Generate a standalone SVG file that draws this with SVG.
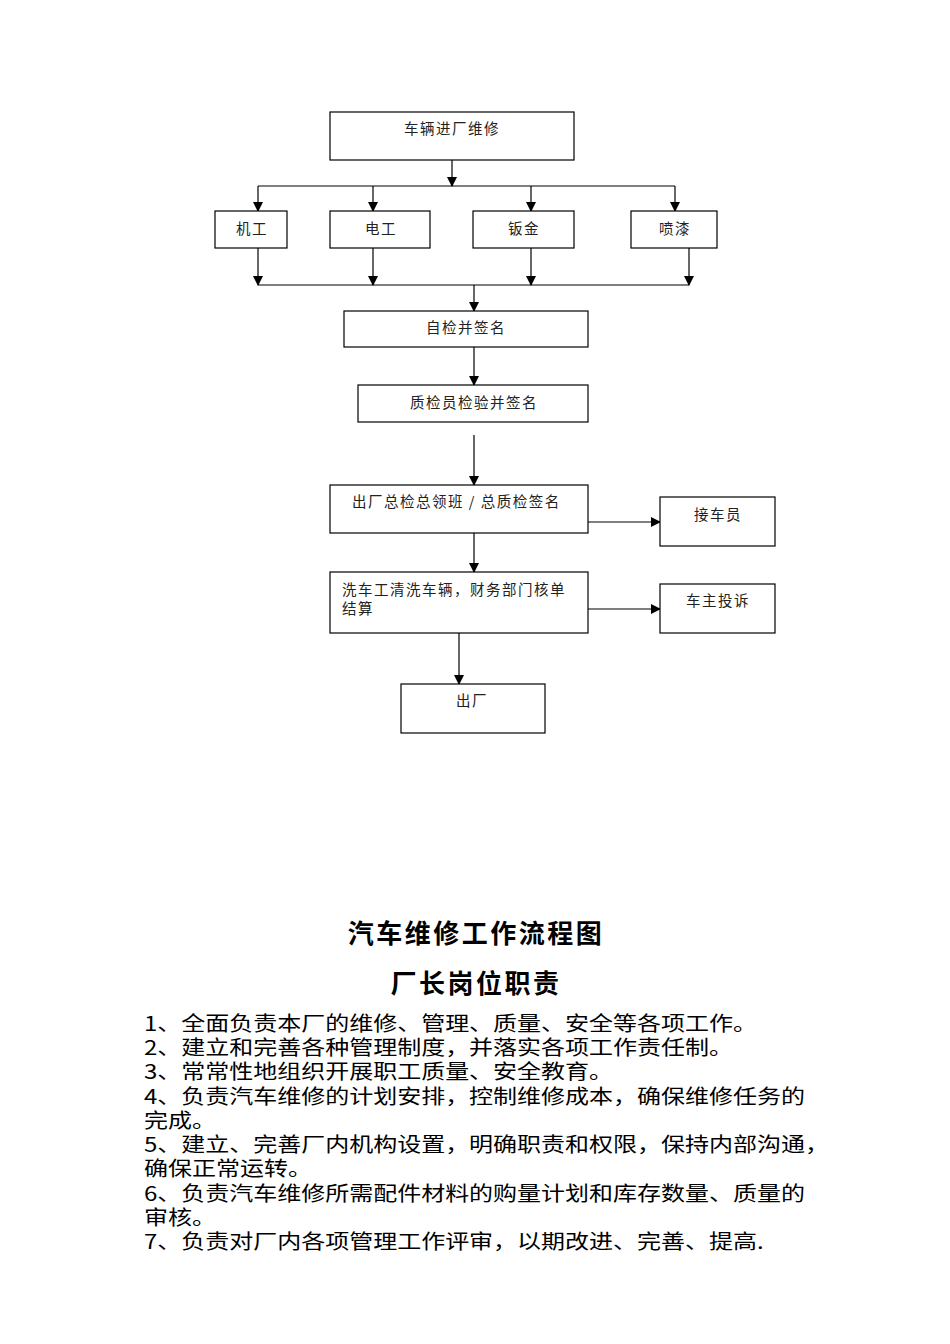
<svg xmlns="http://www.w3.org/2000/svg" width="950" height="1344" viewBox="0 0 950 1344">
<defs>
<marker id="ah" markerWidth="10" markerHeight="10" refX="9" refY="5" orient="auto" markerUnits="userSpaceOnUse">
<path d="M0,0 L10,5 L0,10 Z" fill="#000"/>
</marker>
<style>
.box{fill:#fff;stroke:#000;stroke-width:1.2}
.lbl{font-family:"Noto Sans CJK SC","Liberation Serif",sans-serif;font-size:14.5px;fill:#222;letter-spacing:1.5px}
.c{text-anchor:middle}
.ln{stroke:#000;stroke-width:1.2;fill:none}
.ar{stroke:#000;stroke-width:1.2;fill:none;marker-end:url(#ah)}
.title{font-family:"Noto Sans CJK SC","Liberation Sans",sans-serif;font-size:26px;font-weight:bold;fill:#000;text-anchor:middle;letter-spacing:2.5px}
.body{font-family:"Noto Sans CJK SC","Liberation Serif",sans-serif;font-size:20px;fill:#000}
</style>
</defs>
<rect width="950" height="1344" fill="#fff"/>
<g id="connectors">
<path class="ar" d="M452,160 V186"/>
<path class="ln" d="M258,186 H675"/>
<path class="ar" d="M258,186 V211"/>
<path class="ar" d="M373,186 V211"/>
<path class="ar" d="M531,186 V211"/>
<path class="ar" d="M675,186 V211"/>
<path class="ar" d="M258,248 V285"/>
<path class="ar" d="M373,248 V285"/>
<path class="ar" d="M531,248 V285"/>
<path class="ar" d="M689,248 V285"/>
<path class="ln" d="M258,285 H689"/>
<path class="ar" d="M474,285 V311"/>
<path class="ar" d="M474,347 V385"/>
<path class="ar" d="M474,435 V485"/>
<path class="ar" d="M588,522 H660"/>
<path class="ar" d="M474,533 V572"/>
<path class="ar" d="M588,609 H660"/>
<path class="ar" d="M459,633 V684"/>
</g>
<g id="n1"><rect class="box" x="330" y="112" width="244" height="48"/><text class="lbl c" x="452" y="134">车辆进厂维修</text></g>
<g id="n2"><rect class="box" x="215" y="211" width="72" height="37"/><text class="lbl c" x="252" y="234">机工</text></g>
<g id="n3"><rect class="box" x="330" y="211" width="100" height="37"/><text class="lbl c" x="381" y="234">电工</text></g>
<g id="n4"><rect class="box" x="473" y="211" width="101" height="37"/><text class="lbl c" x="524" y="234">钣金</text></g>
<g id="n5"><rect class="box" x="631" y="211" width="86" height="37"/><text class="lbl c" x="675" y="234">喷漆</text></g>
<g id="n6"><rect class="box" x="344" y="311" width="244" height="36"/><text class="lbl c" x="466" y="333">自检并签名</text></g>
<g id="n7"><rect class="box" x="358" y="385" width="230" height="37"/><text class="lbl c" x="474" y="408">质检员检验并签名</text></g>
<g id="n8"><rect class="box" x="330" y="485" width="258" height="48"/><text class="lbl" x="352" y="507">出厂总检总领班 / 总质检签名</text></g>
<g id="n9"><rect class="box" x="660" y="497" width="115" height="49"/><text class="lbl c" x="718" y="520">接车员</text></g>
<g id="n10"><rect class="box" x="330" y="572" width="258" height="61"/><text class="lbl" x="342" y="595">洗车工清洗车辆，财务部门核单</text><text class="lbl" x="342" y="614">结算</text></g>
<g id="n11"><rect class="box" x="660" y="584" width="115" height="49"/><text class="lbl c" x="718" y="606">车主投诉</text></g>
<g id="n12"><rect class="box" x="401" y="684" width="144" height="49"/><text class="lbl c" x="472" y="706">出厂</text></g>
<g id="titles">
<text class="title" x="476" y="943">汽车维修工作流程图</text>
<text class="title" x="476" y="993">厂长岗位职责</text>
</g>
<g id="body" transform="scale(1.2,1)">
<text class="body" x="120" y="1031">1、全面负责本厂的维修、管理、质量、安全等各项工作。</text>
<text class="body" x="120" y="1055">2、建立和完善各种管理制度，并落实各项工作责任制。</text>
<text class="body" x="120" y="1079">3、常常性地组织开展职工质量、安全教育。</text>
<text class="body" x="120" y="1104">4、负责汽车维修的计划安排，控制维修成本，确保维修任务的</text>
<text class="body" x="120" y="1128">完成。</text>
<text class="body" x="120" y="1152">5、建立、完善厂内机构设置，明确职责和权限，保持内部沟通，</text>
<text class="body" x="120" y="1176">确保正常运转。</text>
<text class="body" x="120" y="1201">6、负责汽车维修所需配件材料的购量计划和库存数量、质量的</text>
<text class="body" x="120" y="1225">审核。</text>
<text class="body" x="120" y="1249">7、负责对厂内各项管理工作评审，以期改进、完善、提高.</text>
</g>
</svg>
